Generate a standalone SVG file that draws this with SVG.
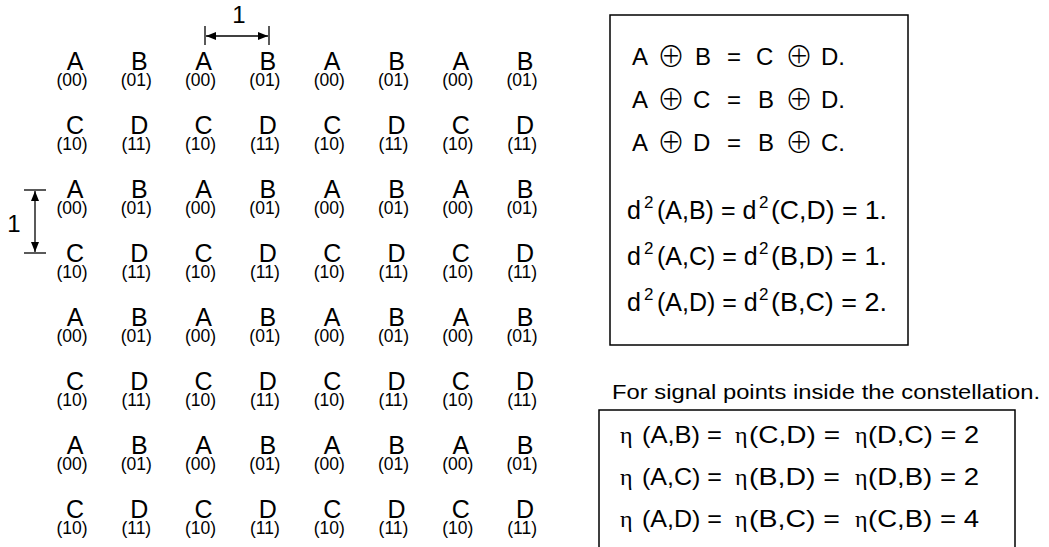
<svg xmlns="http://www.w3.org/2000/svg" width="1049" height="547" viewBox="0 0 1049 547">
<style>
.L{font-family:"Liberation Sans",Arial,sans-serif;font-size:25px;text-anchor:middle;fill:#000}
.S{font-family:"Liberation Sans",Arial,sans-serif;font-size:17.5px;text-anchor:middle;fill:#000}
.T{font-family:"Liberation Sans",Arial,sans-serif;fill:#000}
.ln{stroke:#000;stroke-width:1.3;fill:none}
.box{stroke:#000;stroke-width:1.5;fill:none}
.sym{font-family:"Noto Sans CJK SC","DejaVu Sans",sans-serif;font-size:28px;font-weight:200;text-anchor:middle;fill:#000}
.eta{font-family:"Liberation Serif",serif}
</style>
<defs>
<marker id="ah" viewBox="0 0 10 8" refX="10" refY="4" markerWidth="10" markerHeight="8" markerUnits="userSpaceOnUse" orient="auto-start-reverse">
<path d="M0,0 L10,4 L0,8 z" fill="#000"/>
</marker>
</defs>
<rect width="1049" height="547" fill="#fff"/>

<g id="grid">
<g id="row1">
<text class="L" x="75" y="70">A</text><text class="S" x="72" y="86">(00)</text>
<text class="L" x="139.3" y="70">B</text><text class="S" x="136.3" y="86">(01)</text>
<text class="L" x="203.6" y="70">A</text><text class="S" x="200.6" y="86">(00)</text>
<text class="L" x="267.9" y="70">B</text><text class="S" x="264.9" y="86">(01)</text>
<text class="L" x="332.2" y="70">A</text><text class="S" x="329.2" y="86">(00)</text>
<text class="L" x="396.5" y="70">B</text><text class="S" x="393.5" y="86">(01)</text>
<text class="L" x="460.8" y="70">A</text><text class="S" x="457.8" y="86">(00)</text>
<text class="L" x="525.1" y="70">B</text><text class="S" x="522.1" y="86">(01)</text>
</g>
<g id="row2">
<text class="L" x="75" y="134">C</text><text class="S" x="72" y="150">(10)</text>
<text class="L" x="139.3" y="134">D</text><text class="S" x="136.3" y="150">(11)</text>
<text class="L" x="203.6" y="134">C</text><text class="S" x="200.6" y="150">(10)</text>
<text class="L" x="267.9" y="134">D</text><text class="S" x="264.9" y="150">(11)</text>
<text class="L" x="332.2" y="134">C</text><text class="S" x="329.2" y="150">(10)</text>
<text class="L" x="396.5" y="134">D</text><text class="S" x="393.5" y="150">(11)</text>
<text class="L" x="460.8" y="134">C</text><text class="S" x="457.8" y="150">(10)</text>
<text class="L" x="525.1" y="134">D</text><text class="S" x="522.1" y="150">(11)</text>
</g>
<g id="row3">
<text class="L" x="75" y="198">A</text><text class="S" x="72" y="214">(00)</text>
<text class="L" x="139.3" y="198">B</text><text class="S" x="136.3" y="214">(01)</text>
<text class="L" x="203.6" y="198">A</text><text class="S" x="200.6" y="214">(00)</text>
<text class="L" x="267.9" y="198">B</text><text class="S" x="264.9" y="214">(01)</text>
<text class="L" x="332.2" y="198">A</text><text class="S" x="329.2" y="214">(00)</text>
<text class="L" x="396.5" y="198">B</text><text class="S" x="393.5" y="214">(01)</text>
<text class="L" x="460.8" y="198">A</text><text class="S" x="457.8" y="214">(00)</text>
<text class="L" x="525.1" y="198">B</text><text class="S" x="522.1" y="214">(01)</text>
</g>
<g id="row4">
<text class="L" x="75" y="262">C</text><text class="S" x="72" y="278">(10)</text>
<text class="L" x="139.3" y="262">D</text><text class="S" x="136.3" y="278">(11)</text>
<text class="L" x="203.6" y="262">C</text><text class="S" x="200.6" y="278">(10)</text>
<text class="L" x="267.9" y="262">D</text><text class="S" x="264.9" y="278">(11)</text>
<text class="L" x="332.2" y="262">C</text><text class="S" x="329.2" y="278">(10)</text>
<text class="L" x="396.5" y="262">D</text><text class="S" x="393.5" y="278">(11)</text>
<text class="L" x="460.8" y="262">C</text><text class="S" x="457.8" y="278">(10)</text>
<text class="L" x="525.1" y="262">D</text><text class="S" x="522.1" y="278">(11)</text>
</g>
<g id="row5">
<text class="L" x="75" y="326">A</text><text class="S" x="72" y="342">(00)</text>
<text class="L" x="139.3" y="326">B</text><text class="S" x="136.3" y="342">(01)</text>
<text class="L" x="203.6" y="326">A</text><text class="S" x="200.6" y="342">(00)</text>
<text class="L" x="267.9" y="326">B</text><text class="S" x="264.9" y="342">(01)</text>
<text class="L" x="332.2" y="326">A</text><text class="S" x="329.2" y="342">(00)</text>
<text class="L" x="396.5" y="326">B</text><text class="S" x="393.5" y="342">(01)</text>
<text class="L" x="460.8" y="326">A</text><text class="S" x="457.8" y="342">(00)</text>
<text class="L" x="525.1" y="326">B</text><text class="S" x="522.1" y="342">(01)</text>
</g>
<g id="row6">
<text class="L" x="75" y="390">C</text><text class="S" x="72" y="406">(10)</text>
<text class="L" x="139.3" y="390">D</text><text class="S" x="136.3" y="406">(11)</text>
<text class="L" x="203.6" y="390">C</text><text class="S" x="200.6" y="406">(10)</text>
<text class="L" x="267.9" y="390">D</text><text class="S" x="264.9" y="406">(11)</text>
<text class="L" x="332.2" y="390">C</text><text class="S" x="329.2" y="406">(10)</text>
<text class="L" x="396.5" y="390">D</text><text class="S" x="393.5" y="406">(11)</text>
<text class="L" x="460.8" y="390">C</text><text class="S" x="457.8" y="406">(10)</text>
<text class="L" x="525.1" y="390">D</text><text class="S" x="522.1" y="406">(11)</text>
</g>
<g id="row7">
<text class="L" x="75" y="454">A</text><text class="S" x="72" y="470">(00)</text>
<text class="L" x="139.3" y="454">B</text><text class="S" x="136.3" y="470">(01)</text>
<text class="L" x="203.6" y="454">A</text><text class="S" x="200.6" y="470">(00)</text>
<text class="L" x="267.9" y="454">B</text><text class="S" x="264.9" y="470">(01)</text>
<text class="L" x="332.2" y="454">A</text><text class="S" x="329.2" y="470">(00)</text>
<text class="L" x="396.5" y="454">B</text><text class="S" x="393.5" y="470">(01)</text>
<text class="L" x="460.8" y="454">A</text><text class="S" x="457.8" y="470">(00)</text>
<text class="L" x="525.1" y="454">B</text><text class="S" x="522.1" y="470">(01)</text>
</g>
<g id="row8">
<text class="L" x="75" y="518">C</text><text class="S" x="72" y="534">(10)</text>
<text class="L" x="139.3" y="518">D</text><text class="S" x="136.3" y="534">(11)</text>
<text class="L" x="203.6" y="518">C</text><text class="S" x="200.6" y="534">(10)</text>
<text class="L" x="267.9" y="518">D</text><text class="S" x="264.9" y="534">(11)</text>
<text class="L" x="332.2" y="518">C</text><text class="S" x="329.2" y="534">(10)</text>
<text class="L" x="396.5" y="518">D</text><text class="S" x="393.5" y="534">(11)</text>
<text class="L" x="460.8" y="518">C</text><text class="S" x="457.8" y="534">(10)</text>
<text class="L" x="525.1" y="518">D</text><text class="S" x="522.1" y="534">(11)</text>
</g>
</g>

<g id="dimensions">
<g id="dim-horizontal">
<line class="ln" x1="205" y1="26" x2="205" y2="45"/>
<line class="ln" x1="269" y1="26" x2="269" y2="45"/>
<line class="ln" x1="206" y1="36" x2="268" y2="36" marker-start="url(#ah)" marker-end="url(#ah)"/>
<text class="T" x="239" y="23" font-size="24" text-anchor="middle">1</text>
</g>
<g id="dim-vertical">
<line class="ln" x1="24" y1="190" x2="46" y2="190"/>
<line class="ln" x1="24" y1="253" x2="46" y2="253"/>
<line class="ln" x1="35" y1="191" x2="35" y2="252" marker-start="url(#ah)" marker-end="url(#ah)"/>
<text class="T" x="14" y="232" font-size="24" text-anchor="middle">1</text>
</g>
</g>

<g id="relations-box">
<rect class="box" x="610" y="15" width="298" height="330"/>
<g id="xor-lines" class="T" font-size="24">
<text x="632" y="65">A</text><text class="sym" x="671" y="67">⊕</text><text x="695" y="65">B</text><text x="727" y="65">=</text><text x="756" y="65">C</text><text class="sym" x="799" y="67">⊕</text><text x="821" y="65">D.</text>
<text x="632" y="108">A</text><text class="sym" x="671" y="110">⊕</text><text x="693" y="108">C</text><text x="727" y="108">=</text><text x="758" y="108">B</text><text class="sym" x="799" y="110">⊕</text><text x="821" y="108">D.</text>
<text x="632" y="151">A</text><text class="sym" x="671" y="153">⊕</text><text x="693" y="151">D</text><text x="727" y="151">=</text><text x="758" y="151">B</text><text class="sym" x="799" y="153">⊕</text><text x="821" y="151">C.</text>
</g>
<g id="distance-lines" class="T" font-size="25">
<text y="219"><tspan x="627">d</tspan><tspan x="644" dy="-11" font-size="17">2</tspan><tspan x="657" dy="11">(A,B) = d</tspan><tspan x="759" dy="-11" font-size="17">2</tspan><tspan x="771" dy="11" textLength="116" lengthAdjust="spacingAndGlyphs">(C,D) = 1.</tspan></text>
<text y="265"><tspan x="627">d</tspan><tspan x="644" dy="-11" font-size="17">2</tspan><tspan x="657" dy="11">(A,C) = d</tspan><tspan x="759" dy="-11" font-size="17">2</tspan><tspan x="771" dy="11" textLength="116" lengthAdjust="spacingAndGlyphs">(B,D) = 1.</tspan></text>
<text y="311"><tspan x="627">d</tspan><tspan x="644" dy="-11" font-size="17">2</tspan><tspan x="657" dy="11">(A,D) = d</tspan><tspan x="759" dy="-11" font-size="17">2</tspan><tspan x="771" dy="11" textLength="116" lengthAdjust="spacingAndGlyphs">(B,C) = 2.</tspan></text>
</g>
</g>

<g id="caption">
<text class="T" x="612" y="399" font-size="21" textLength="428" lengthAdjust="spacingAndGlyphs">For signal points inside the constellation.</text>
</g>

<g id="eta-box">
<path class="box" d="M599,548 V410 H1015 V548"/>
<g class="T" font-size="24">
<text y="443"><tspan class="eta" x="620">η</tspan><tspan x="642" textLength="80" lengthAdjust="spacingAndGlyphs">(A,B) =</tspan><tspan class="eta" x="735">η</tspan><tspan x="749" textLength="91" lengthAdjust="spacingAndGlyphs">(C,D) =</tspan><tspan class="eta" x="855">η</tspan><tspan x="868" textLength="111" lengthAdjust="spacingAndGlyphs">(D,C) = 2</tspan></text>
<text y="485"><tspan class="eta" x="620">η</tspan><tspan x="642" textLength="80" lengthAdjust="spacingAndGlyphs">(A,C) =</tspan><tspan class="eta" x="735">η</tspan><tspan x="749" textLength="91" lengthAdjust="spacingAndGlyphs">(B,D) =</tspan><tspan class="eta" x="855">η</tspan><tspan x="868" textLength="111" lengthAdjust="spacingAndGlyphs">(D,B) = 2</tspan></text>
<text y="527"><tspan class="eta" x="620">η</tspan><tspan x="642" textLength="80" lengthAdjust="spacingAndGlyphs">(A,D) =</tspan><tspan class="eta" x="735">η</tspan><tspan x="749" textLength="91" lengthAdjust="spacingAndGlyphs">(B,C) =</tspan><tspan class="eta" x="855">η</tspan><tspan x="868" textLength="111" lengthAdjust="spacingAndGlyphs">(C,B) = 4</tspan></text>
</g>
</g>
</svg>
